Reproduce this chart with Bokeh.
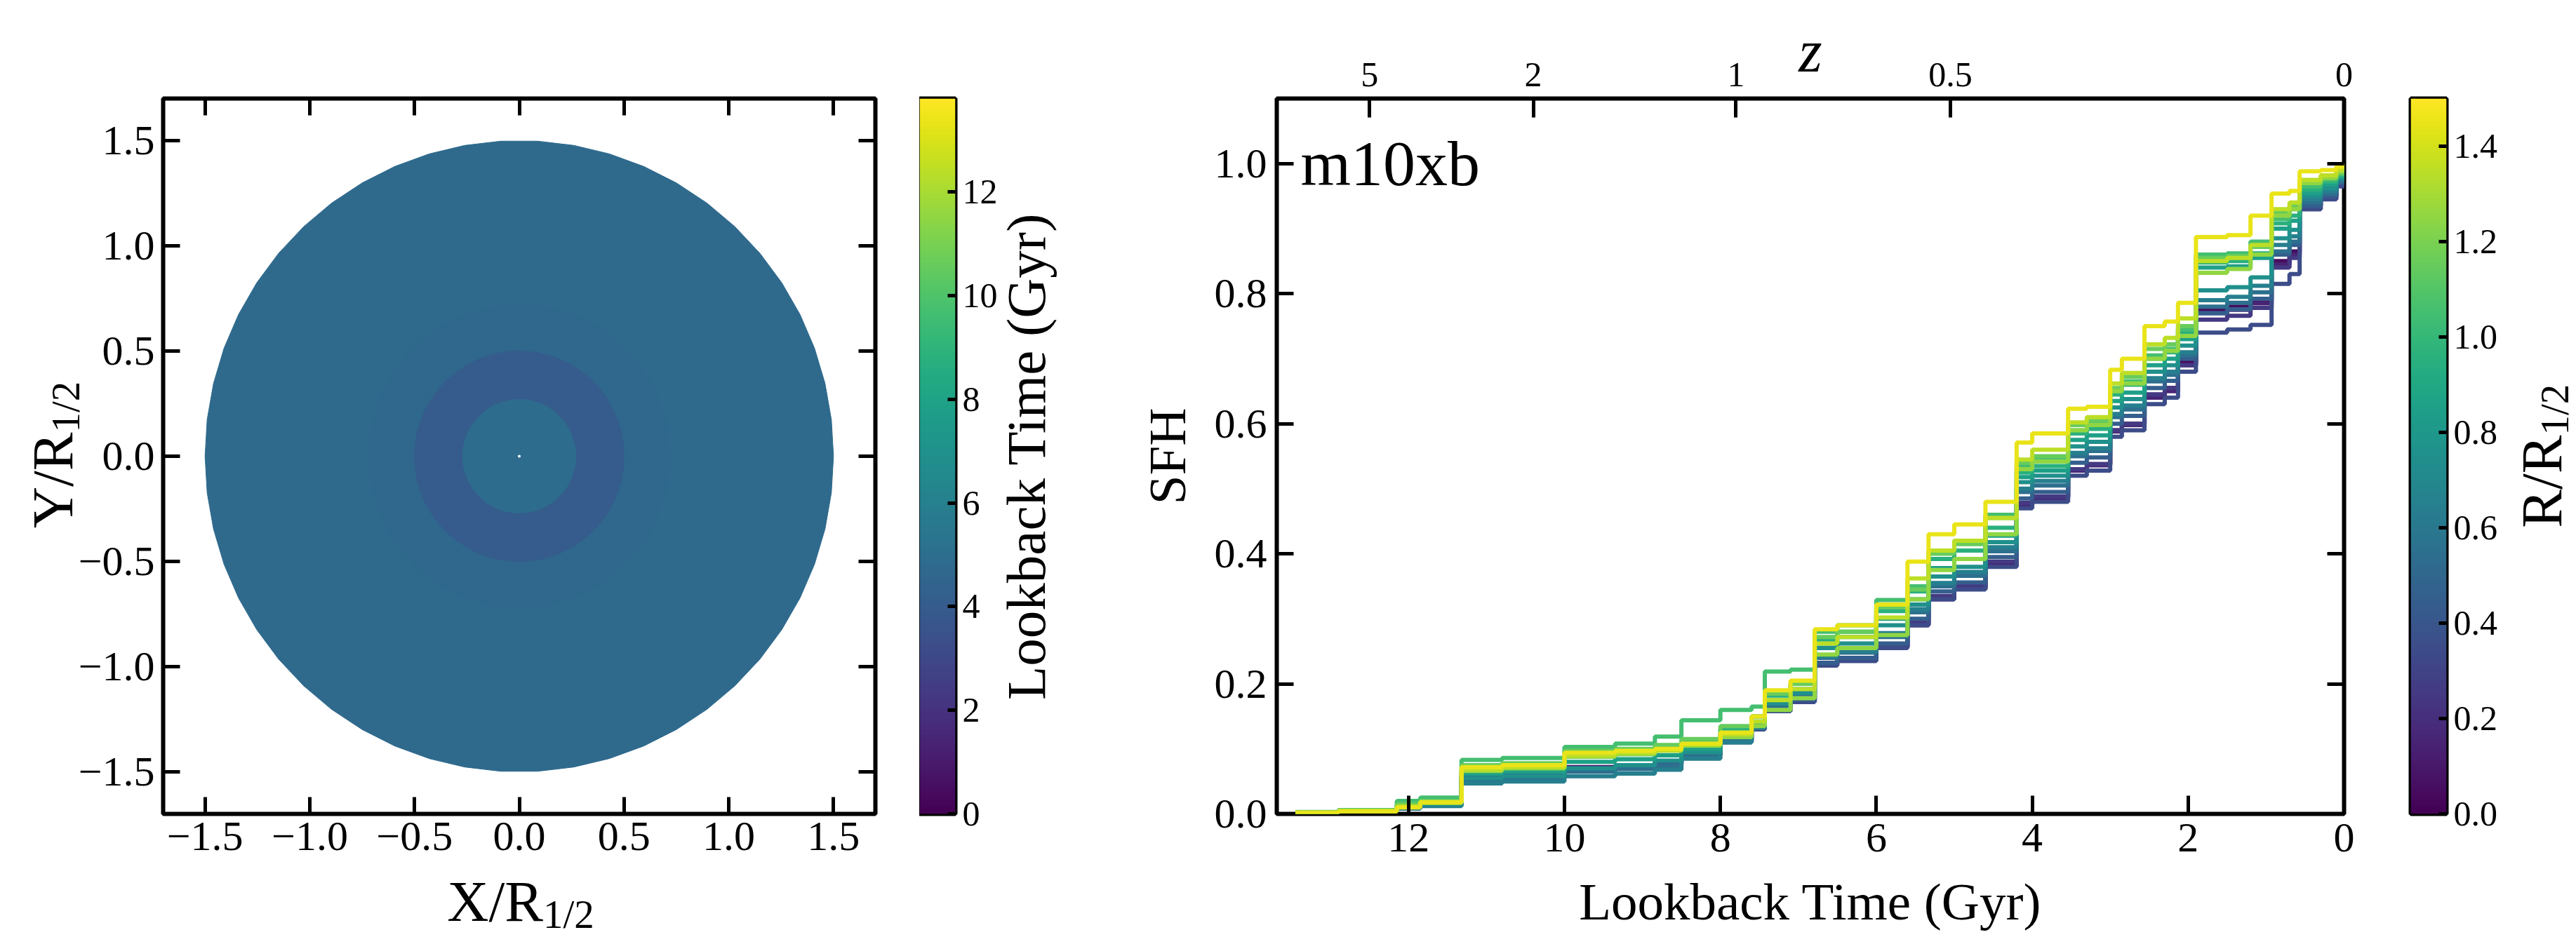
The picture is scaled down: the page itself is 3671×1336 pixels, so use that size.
import numpy as np
from bokeh.plotting import figure
from bokeh.layouts import row
from bokeh.models import (Range1d, LinearAxis, FixedTicker, CustomJSTickFormatter,
                          LinearColorMapper, ColumnDataSource, Label)
from bokeh.palettes import Viridis256
from bokeh.transform import transform
from bokeh.embed import file_html
from bokeh.resources import INLINE

FONT = "Liberation Serif"

# ---------------- left panel: lookback-time map in concentric annuli ----------------
ring_outer_radius = [1.5, 0.72, 0.5, 0.27]      # R / R_1/2, drawn largest first
ring_age = [4.75, 4.6, 4.0, 4.9]                # Gyr
age_max = 13.8
xy_ticks = [-1.5, -1.0, -0.5, 0.0, 0.5, 1.0, 1.5]
age_ticks = [0, 2, 4, 6, 8, 10, 12]

# ---------------- right panel: cumulative SFH per radial bin ----------------
step_time = [13.45, 12.9, 12.15, 11.85, 11.32, 10.8, 10.0, 9.35, 8.84, 8.5,
             8.0, 7.6, 7.43, 7.1, 6.79, 6.5, 6.0, 5.6, 5.33, 5.0,
             4.6, 4.2, 4.0, 3.54, 3.3, 3.0, 2.85, 2.56, 2.3, 2.13,
             1.9, 1.5, 1.2, 0.93, 0.7, 0.57, 0.3, 0.1, 0.0]
radius_bin = [0.05, 0.15, 0.25, 0.35, 0.45, 0.55, 0.65, 0.75, 0.85, 0.95,
              1.05, 1.15, 1.25, 1.35, 1.45]
sfh_r005 = [0.002, 0.004, 0.010, 0.015, 0.058, 0.061, 0.072, 0.075, 0.080, 0.094,
            0.114, 0.133, 0.162, 0.176, 0.232, 0.240, 0.258, 0.290, 0.330, 0.346,
            0.382, 0.478, 0.488, 0.530, 0.538, 0.590, 0.600, 0.645, 0.655, 0.695,
            0.775, 0.780, 0.790, 0.850, 0.865, 0.935, 0.950, 0.968, 1.0]
sfh_r015 = [0.002, 0.004, 0.010, 0.015, 0.057, 0.060, 0.071, 0.074, 0.079, 0.093,
            0.112, 0.131, 0.160, 0.174, 0.230, 0.238, 0.256, 0.292, 0.332, 0.348,
            0.385, 0.475, 0.485, 0.528, 0.536, 0.588, 0.598, 0.640, 0.650, 0.690,
            0.770, 0.775, 0.785, 0.845, 0.860, 0.935, 0.950, 0.968, 1.0]
sfh_r025 = [0.002, 0.004, 0.010, 0.015, 0.056, 0.059, 0.070, 0.073, 0.077, 0.092,
            0.112, 0.132, 0.162, 0.176, 0.232, 0.240, 0.258, 0.295, 0.335, 0.350,
            0.388, 0.478, 0.488, 0.530, 0.538, 0.590, 0.600, 0.645, 0.655, 0.690,
            0.760, 0.766, 0.778, 0.840, 0.855, 0.930, 0.946, 0.966, 1.0]
sfh_r035 = [0.002, 0.004, 0.010, 0.015, 0.055, 0.058, 0.068, 0.071, 0.075, 0.090,
            0.110, 0.130, 0.158, 0.172, 0.228, 0.235, 0.255, 0.290, 0.330, 0.345,
            0.380, 0.470, 0.480, 0.520, 0.528, 0.580, 0.590, 0.630, 0.640, 0.680,
            0.740, 0.745, 0.752, 0.815, 0.830, 0.930, 0.945, 0.965, 1.0]
sfh_r045 = [0.002, 0.004, 0.010, 0.015, 0.058, 0.060, 0.070, 0.074, 0.078, 0.093,
            0.113, 0.133, 0.162, 0.176, 0.232, 0.240, 0.262, 0.300, 0.342, 0.356,
            0.395, 0.485, 0.495, 0.540, 0.548, 0.600, 0.612, 0.655, 0.666, 0.700,
            0.770, 0.776, 0.792, 0.860, 0.875, 0.935, 0.950, 0.970, 1.0]
sfh_r055 = [0.002, 0.004, 0.010, 0.014, 0.052, 0.055, 0.065, 0.069, 0.074, 0.090,
            0.112, 0.134, 0.165, 0.180, 0.240, 0.248, 0.272, 0.310, 0.350, 0.366,
            0.404, 0.495, 0.505, 0.550, 0.558, 0.610, 0.622, 0.665, 0.675, 0.705,
            0.780, 0.786, 0.802, 0.865, 0.880, 0.940, 0.954, 0.972, 1.0]
sfh_r065 = [0.002, 0.004, 0.008, 0.012, 0.047, 0.050, 0.058, 0.062, 0.068, 0.085,
            0.110, 0.132, 0.160, 0.178, 0.242, 0.250, 0.278, 0.315, 0.355, 0.372,
            0.410, 0.500, 0.512, 0.555, 0.562, 0.615, 0.628, 0.670, 0.680, 0.710,
            0.790, 0.795, 0.812, 0.875, 0.888, 0.945, 0.958, 0.975, 1.0]
sfh_r075 = [0.002, 0.004, 0.010, 0.015, 0.055, 0.058, 0.070, 0.075, 0.082, 0.095,
            0.118, 0.138, 0.170, 0.186, 0.255, 0.262, 0.290, 0.322, 0.365, 0.380,
            0.418, 0.510, 0.520, 0.565, 0.572, 0.625, 0.638, 0.680, 0.690, 0.720,
            0.805, 0.810, 0.825, 0.885, 0.898, 0.950, 0.962, 0.978, 1.0]
sfh_r085 = [0.002, 0.005, 0.012, 0.018, 0.062, 0.065, 0.080, 0.084, 0.090, 0.100,
            0.122, 0.142, 0.175, 0.192, 0.262, 0.272, 0.300, 0.330, 0.378, 0.392,
            0.428, 0.518, 0.528, 0.575, 0.582, 0.635, 0.648, 0.690, 0.700, 0.730,
            0.840, 0.842, 0.855, 0.900, 0.912, 0.955, 0.968, 0.980, 1.0]
sfh_r095 = [0.002, 0.005, 0.014, 0.020, 0.068, 0.071, 0.088, 0.092, 0.098, 0.110,
            0.130, 0.150, 0.182, 0.200, 0.268, 0.280, 0.312, 0.342, 0.392, 0.405,
            0.440, 0.525, 0.535, 0.585, 0.592, 0.645, 0.660, 0.700, 0.710, 0.740,
            0.848, 0.850, 0.862, 0.908, 0.920, 0.960, 0.972, 0.982, 1.0]
sfh_r105 = [0.003, 0.006, 0.020, 0.025, 0.083, 0.086, 0.103, 0.108, 0.119, 0.144,
            0.160, 0.165, 0.219, 0.222, 0.280, 0.290, 0.329, 0.350, 0.405, 0.420,
            0.460, 0.535, 0.545, 0.590, 0.600, 0.650, 0.665, 0.705, 0.715, 0.745,
            0.860, 0.862, 0.880, 0.915, 0.930, 0.965, 0.975, 0.985, 1.0]
sfh_r115 = [0.002, 0.005, 0.015, 0.020, 0.075, 0.078, 0.097, 0.100, 0.106, 0.115,
            0.135, 0.150, 0.185, 0.200, 0.272, 0.280, 0.318, 0.345, 0.400, 0.415,
            0.455, 0.540, 0.550, 0.598, 0.605, 0.655, 0.672, 0.715, 0.722, 0.750,
            0.855, 0.858, 0.872, 0.925, 0.935, 0.970, 0.978, 0.985, 1.0]
sfh_r125 = [0.002, 0.005, 0.012, 0.018, 0.066, 0.070, 0.088, 0.092, 0.097, 0.105,
            0.118, 0.135, 0.160, 0.178, 0.245, 0.255, 0.275, 0.330, 0.375, 0.392,
            0.430, 0.530, 0.542, 0.590, 0.598, 0.650, 0.662, 0.700, 0.712, 0.735,
            0.832, 0.838, 0.860, 0.920, 0.930, 0.970, 0.978, 0.988, 1.0]
sfh_r135 = [0.002, 0.004, 0.011, 0.017, 0.068, 0.072, 0.090, 0.094, 0.098, 0.107,
            0.122, 0.142, 0.175, 0.192, 0.262, 0.272, 0.302, 0.362, 0.405, 0.420,
            0.455, 0.545, 0.560, 0.602, 0.610, 0.662, 0.678, 0.722, 0.732, 0.762,
            0.850, 0.855, 0.875, 0.930, 0.940, 0.975, 0.982, 0.990, 1.0]
sfh_r145 = [0.002, 0.004, 0.010, 0.018, 0.072, 0.075, 0.094, 0.097, 0.100, 0.108,
            0.125, 0.150, 0.190, 0.205, 0.284, 0.290, 0.322, 0.388, 0.430, 0.445,
            0.480, 0.571, 0.585, 0.623, 0.626, 0.683, 0.700, 0.750, 0.757, 0.786,
            0.887, 0.890, 0.920, 0.954, 0.958, 0.988, 0.990, 0.995, 1.0]
sfh_by_bin = [sfh_r005, sfh_r015, sfh_r025, sfh_r035, sfh_r045, sfh_r055, sfh_r065, sfh_r075,
              sfh_r085, sfh_r095, sfh_r105, sfh_r115, sfh_r125, sfh_r135, sfh_r145]
r_max = 1.5
lookback_max = 13.69
time_ticks = [0, 2, 4, 6, 8, 10, 12]
sfh_ticks = [0.0, 0.2, 0.4, 0.6, 0.8, 1.0]
r_ticks = [0.0, 0.2, 0.4, 0.6, 0.8, 1.0, 1.2, 1.4]
z_labels = ["5", "2", "1", "0.5", "0"]
z_lookback = [12.5, 10.4, 7.8, 5.05, 0.0]

TOP, FRAME_H, BOTTOM = 140, 1020, 176
TICK_FS = "60px"
CB_FS = "50px"
LABEL_FS = "75px"
MAIN_FS = "82px"
SUB_FS = "57px"


def fmt(decimals):
    return CustomJSTickFormatter(code=(
        "const s = Math.abs(tick).toFixed(%d);"
        "return tick < -1e-9 ? '\\u2212' + s : s;" % decimals))


def blank_fmt():
    return CustomJSTickFormatter(code="return '';")


def style_axis(ax, ticks, formatter, tick_len=24, font_size=TICK_FS, standoff=12):
    ax.ticker = FixedTicker(ticks=ticks)
    ax.formatter = formatter
    ax.axis_line_color = None
    ax.major_tick_in = tick_len
    ax.major_tick_out = 0
    ax.major_tick_line_width = 5
    ax.major_tick_line_color = "black"
    ax.minor_tick_line_color = None
    ax.major_label_text_font = FONT
    ax.major_label_text_font_size = font_size
    ax.major_label_text_color = "black"
    ax.major_label_standoff = standoff


def mirror_axis(p, side, ticks, tick_len):
    ax = LinearAxis()
    style_axis(ax, ticks, blank_fmt(), tick_len=tick_len, font_size="1px", standoff=0)
    p.add_layout(ax, side)


def frame_style(p, width=6):
    p.outline_line_color = "black"
    p.outline_line_width = width
    p.outline_line_alpha = 1.0
    p.xgrid.visible = False
    p.ygrid.visible = False
    p.background_fill_color = "white"
    p.border_fill_color = "white"


def text(p, side, x, y, s, size, dx=0, dy=0, align="center", baseline="alphabetic",
         angle=0.0, style="normal"):
    # placed with the frame's data scales; hosted in a side panel so that it is
    # drawn in the border area without being clipped to the frame
    p.add_layout(Label(x=x, y=y, x_offset=dx, y_offset=dy, text=s, text_font=FONT,
                       text_font_size=size, text_align=align, text_baseline=baseline,
                       angle=angle, text_font_style=style, text_color="black"), side)


def sub_label(p, sides, x, y, main, sub, dx, dy, vertical=False, shift=20):
    """Main text ending at the anchor, subscript starting at it."""
    if vertical:
        text(p, sides[0], x, y, main, MAIN_FS, dx=dx, dy=dy, align="right", angle=np.pi / 2)
        text(p, sides[1], x, y, sub, SUB_FS, dx=dx + shift, dy=dy, align="left", angle=np.pi / 2)
    else:
        text(p, sides[0], x, y, main, MAIN_FS, dx=dx, dy=dy, align="right")
        text(p, sides[1], x, y, sub, SUB_FS, dx=dx, dy=dy - shift, align="left")


# ======================= left panel =======================
pA = figure(frame_width=1015, frame_height=FRAME_H, min_border_left=232, min_border_right=63,
            min_border_top=TOP, min_border_bottom=BOTTOM,
            x_range=Range1d(-1.7, 1.7), y_range=Range1d(-1.7, 1.7),
            output_backend="svg", toolbar_location=None)
frame_style(pA)
age_mapper = LinearColorMapper(palette=Viridis256, low=0, high=age_max)

theta = np.linspace(0.0, 2.0 * np.pi, 55)[:-1]
ring_src = ColumnDataSource(dict(
    xs=[list(r * np.cos(theta)) for r in ring_outer_radius],
    ys=[list(r * np.sin(theta)) for r in ring_outer_radius],
    age=ring_age))
pA.patches("xs", "ys", source=ring_src, fill_color=transform("age", age_mapper),
           line_color=transform("age", age_mapper), line_width=1)
pA.scatter(x=[0.0], y=[0.0], size=4, color="white", line_color=None)

style_axis(pA.xaxis[0], xy_ticks, fmt(1))
style_axis(pA.yaxis[0], xy_ticks, fmt(1))
mirror_axis(pA, "right", xy_ticks, 24)
mirror_axis(pA, "above", xy_ticks, 24)

sub_label(pA, ("below", "above"), 0.0, -1.7, "X/R", "1/2", dx=34, dy=-125, shift=18)
sub_label(pA, ("left", "above"), -1.7, 0.0, "Y/R", "1/2", dx=-157, dy=34, vertical=True, shift=18)

# ------------------- left colour bar -------------------
pB = figure(frame_width=51, frame_height=FRAME_H, min_border_left=0, min_border_right=150,
            min_border_top=TOP, min_border_bottom=BOTTOM,
            x_range=Range1d(0, 1), y_range=Range1d(0, age_max),
            x_axis_type=None, y_axis_location="right",
            output_backend="svg", toolbar_location=None)
frame_style(pB)
pB.image(image=[np.linspace(0, age_max, 512).reshape(512, 1)], x=0, y=0, dw=1, dh=age_max,
         color_mapper=age_mapper)
style_axis(pB.yaxis[0], age_ticks, fmt(0), tick_len=11, font_size=CB_FS, standoff=10)
text(pB, "right", 1.0, age_max / 2, "Lookback Time (Gyr)", "79px", dx=101, dy=0,
     baseline="middle", angle=np.pi / 2)

# ======================= right panel =======================
pC = figure(frame_width=1521, frame_height=FRAME_H, min_border_left=308, min_border_right=25,
            min_border_top=TOP, min_border_bottom=BOTTOM,
            x_range=Range1d(lookback_max, 0), y_range=Range1d(0, 1.1),
            output_backend="svg", toolbar_location=None)
frame_style(pC)
r_mapper = LinearColorMapper(palette=Viridis256, low=0, high=r_max)
for r, vals in zip(radius_bin, sfh_by_bin):
    color = Viridis256[min(255, int(r / r_max * 256))]
    pC.step(x=step_time, y=vals, mode="after", line_width=6, line_color=color)

style_axis(pC.xaxis[0], time_ticks, fmt(0), tick_len=26, standoff=14)
style_axis(pC.yaxis[0], sfh_ticks, fmt(1), tick_len=24, standoff=14)
mirror_axis(pC, "right", sfh_ticks, 24)
ax_z = LinearAxis()
style_axis(ax_z, z_lookback, CustomJSTickFormatter(
    args=dict(pos=z_lookback, lab=z_labels),
    code="for (let i = 0; i < pos.length; i++) { if (Math.abs(tick - pos[i]) < 1e-6) return lab[i]; } return '';"),
    tick_len=27, font_size="50px", standoff=18)
pC.add_layout(ax_z, "above")

mid_t = lookback_max / 2
text(pC, "below", mid_t, 0.0, "Lookback Time (Gyr)", LABEL_FS, dy=-125)
text(pC, "left", lookback_max, 0.55, "SFH", LABEL_FS, dx=-156, baseline="middle", angle=np.pi / 2)
text(pC, "left", mid_t, 1.1, "z", "86px", dy=68, style="italic")
text(pC, "center", lookback_max, 1.0, "m10xb", "92px", dx=34, align="left")

# ------------------- right colour bar -------------------
pD = figure(frame_width=51, frame_height=FRAME_H, min_border_left=70, min_border_right=185,
            min_border_top=TOP, min_border_bottom=BOTTOM,
            x_range=Range1d(0, 1), y_range=Range1d(0, r_max),
            x_axis_type=None, y_axis_location="right",
            output_backend="svg", toolbar_location=None)
frame_style(pD)
pD.image(image=[np.linspace(0, r_max, 512).reshape(512, 1)], x=0, y=0, dw=1, dh=r_max,
         color_mapper=r_mapper)
style_axis(pD.yaxis[0], r_ticks, fmt(1), tick_len=11, font_size=CB_FS, standoff=10)
sub_label(pD, ("right", "left"), 1.0, r_max / 2, "R/R", "1/2", dx=136, dy=30, vertical=True, shift=18)

layout = row(pA, pB, pC, pD)
open("out.html", "w").write(file_html(layout, INLINE))
